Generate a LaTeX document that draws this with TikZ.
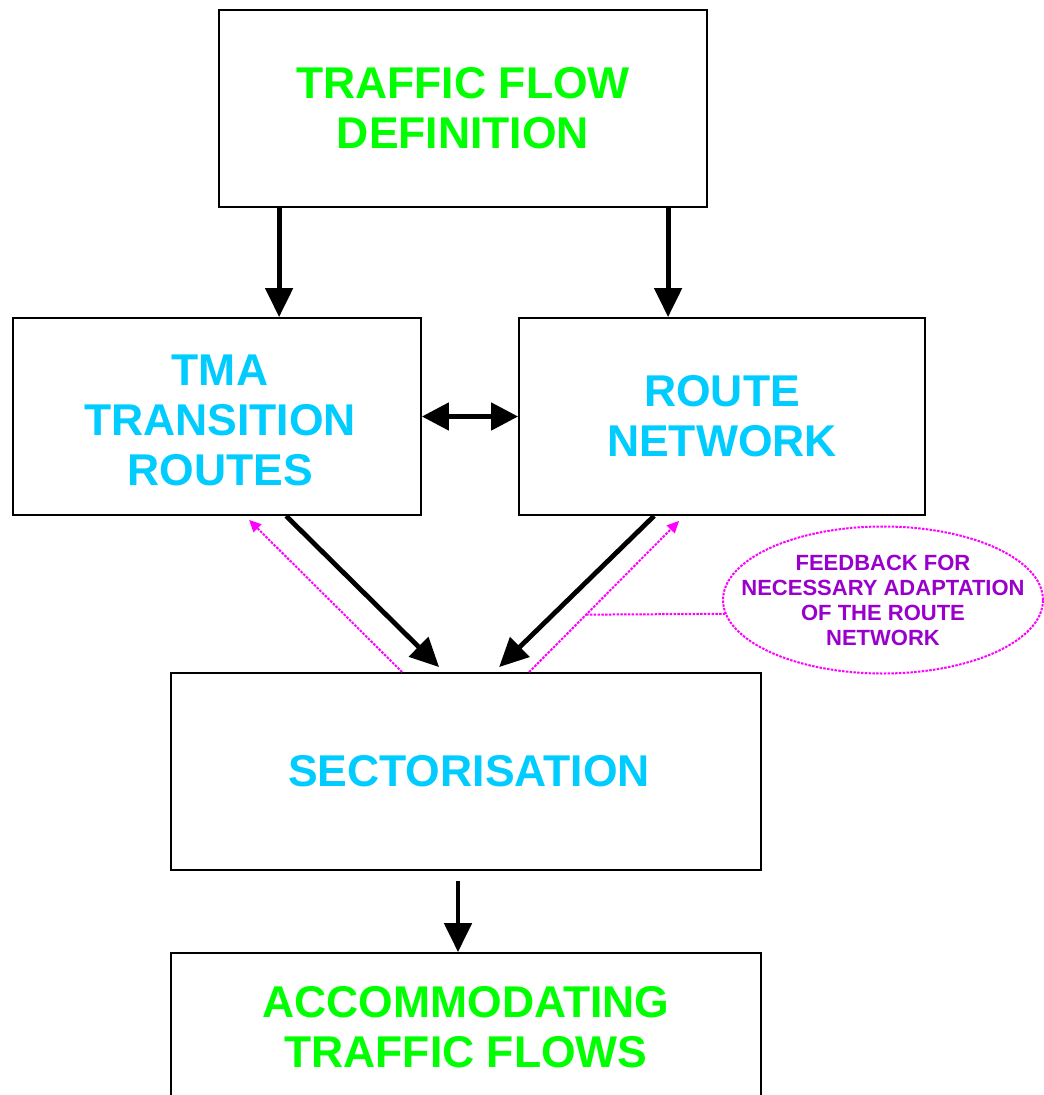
\documentclass[tikz,border=0pt]{standalone}
\usepackage{fontspec}
\setmainfont{Liberation Sans}
\usetikzlibrary{arrows.meta,shapes.geometric,calc}
\definecolor{tgreen}{RGB}{0,255,0}
\definecolor{tcyan}{RGB}{0,204,255}
\definecolor{tpurple}{RGB}{153,0,204}
\definecolor{fbmag}{RGB}{255,0,255}
\begin{document}
\begin{tikzpicture}[x=1pt,y=1pt,
  box/.style={draw=black,line width=1.8pt,rectangle,inner sep=0pt,align=center,
    font=\bfseries\fontsize{44.5}{50}\selectfont},
  flow/.style={line width=4.8pt,-{Triangle[length=29pt,width=27pt]}},
  fbline/.style={draw=fbmag,line width=2pt,dash pattern=on 2.5pt off 1.3pt},
  fbarrow/.style={fbline,-{Triangle[length=12pt,width=11pt]}},
  fbtext/.style={text=tpurple,align=center,font=\bfseries\fontsize{22}{25}\selectfont,inner sep=0pt}]
\useasboundingbox (0,0) rectangle (1044,-1095);

\node[box,minimum width=488pt,minimum height=197pt,text=tgreen] (top) at (463,-108.5) {TRAFFIC FLOW\\DEFINITION};
\node[box,minimum width=408pt,minimum height=197pt] (tma) at (217,-416.5) {};
\node[box,draw=none,text=tcyan] (tmat) at ([xshift=3pt,yshift=-4pt]tma.center) {TMA\\TRANSITION\\ROUTES};
\node[box,minimum width=406pt,minimum height=197pt,text=tcyan] (route) at (722,-416.5) {ROUTE\\NETWORK};
\node[box,minimum width=590pt,minimum height=197pt,text=tcyan] (sect) at (466,-771.5) {\hspace*{6pt}SECTORISATION};
\node[box,minimum width=590pt,minimum height=148pt,text=tgreen] (acc) at (466,-1027) {ACCOMMODATING\\TRAFFIC FLOWS};

\node[ellipse,fbline,minimum width=320pt,minimum height=147pt,inner sep=0pt] (fb) at (883,-600) {};
\node[fbtext] (fbt) at (fb.center) {FEEDBACK FOR\\NECESSARY ADAPTATION\\OF THE ROUTE\\NETWORK};

% black flow arrows
\draw[flow] ([xshift=61pt]top.south west) -- ([xshift=267pt]tma.north west);
\draw[flow] ([xshift=450pt]top.south west) -- ([xshift=150pt]route.north west);
\draw[line width=4.8pt,{Triangle[length=27pt,width=27pt]}-{Triangle[length=27pt,width=27pt]}] (tma.east) -- (route.west);
\draw[flow] ([xshift=274pt]tma.south west) -- ([xshift=269pt,yshift=5pt]sect.north west);
\draw[flow] ([xshift=136pt]route.south west) -- ([xshift=329pt,yshift=5pt]sect.north west);
\draw[flow] ([yshift=-10pt]sect.south -| 458,0) -- (acc.north -| 458,0);

% magenta feedback arrows
\coordinate (l0) at ([xshift=232pt]sect.north west);
\coordinate (l1) at ([xshift=237pt,yshift=-4pt]tma.south west);
\coordinate (r0) at ([xshift=359pt]sect.north west);
\coordinate (r1) at ([xshift=161pt,yshift=-5pt]route.south west);
\draw[fbarrow] (l0) -- (l1);
\draw[fbarrow] (r0) -- (r1);
\coordinate (rm) at ($(r0)!0.38!(r1)$);
\draw[fbline] (rm) -- (fb.185.5);
\end{tikzpicture}
\end{document}
